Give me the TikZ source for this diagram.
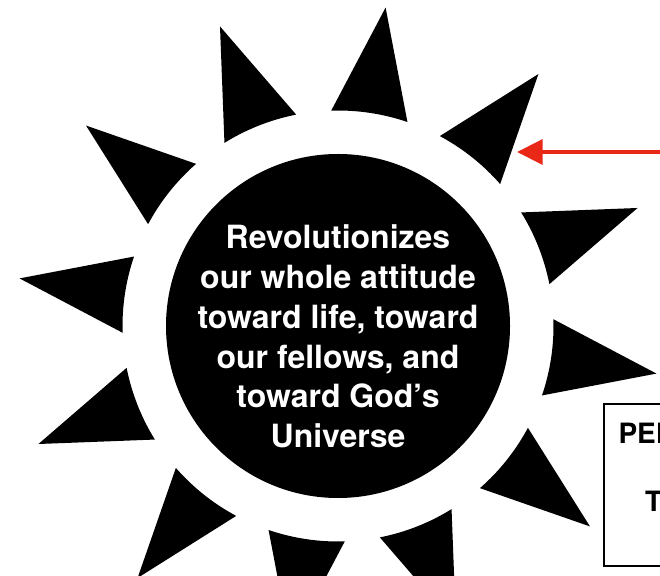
\documentclass[tikz,border=0pt]{standalone}
\usepackage{fontspec}
\setmainfont{TeX Gyre Heros}
\usetikzlibrary{arrows.meta}
\definecolor{arrowred}{RGB}{234,40,24}
\begin{document}
\begin{tikzpicture}[x=1pt,y=1pt,
  ray/.style={fill=black},
  core/.style={circle,fill=black,minimum size=344pt,inner sep=0pt},
  coretext/.style={text=white,align=center,inner sep=0pt,font=\bfseries\fontsize{32}{39.7}\selectfont},
  boxtext/.style={font=\bfseries\fontsize{28}{34}\selectfont,inner sep=0pt,anchor=base west},
  framebox/.style={draw=black,line width=2pt,anchor=north west,minimum width=110pt,minimum height=162pt,inner sep=0pt},
  pointer/.style={draw=arrowred,line width=4.5pt,-{Triangle[length=25.6pt,width=24.6pt]}}
]
\useasboundingbox (0,0) rectangle (660,575);
\clip (0,0) rectangle (660,575);
\fill[white] (0,0) rectangle (660,575);
\node[core] (sun) at (338,249) {};
\foreach \a in {81.5,51.5,...,-248.5}{
  \fill[ray,shift={(338,249)}] ({\a+10.3}:215.5) arc[start angle={\a+10.3},end angle={\a-10.3},radius=215.5] -- (\a:322) -- cycle;
}
\node[coretext] (words) at (338,238.5) {Revolutionizes\\our whole attitude\\toward life, toward\\our fellows, and\\toward God’s\\Universe};
\coordinate (tail) at (664,423);
\coordinate (tip) at (517,423);
\draw[pointer] (tail) -- (tip);
\node[framebox] (box) at (603,172) {};
\node[boxtext] (line1) at (618.3,131.5) {PER};
\node[boxtext] (line2) at (645,63.3) {T};
\end{tikzpicture}
\end{document}
